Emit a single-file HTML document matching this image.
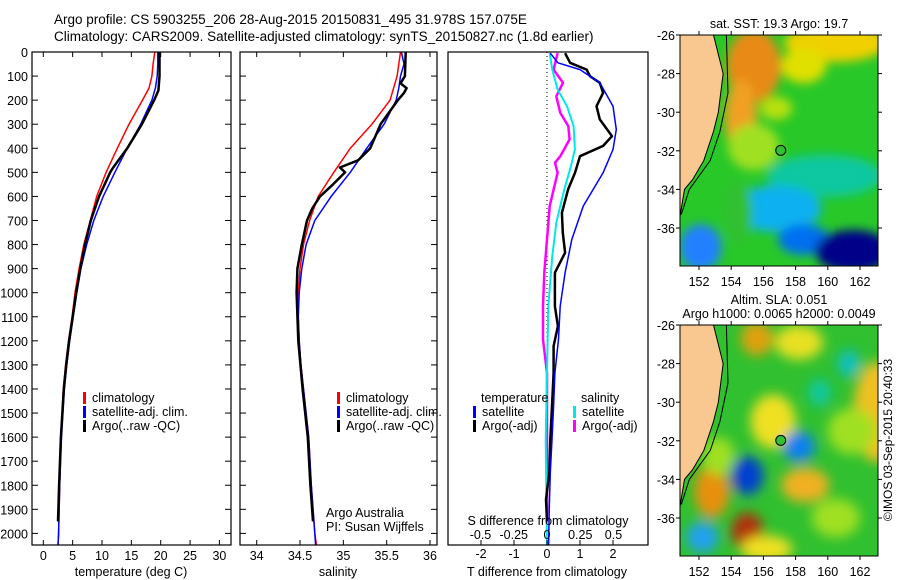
<!DOCTYPE html>
<html><head><meta charset="utf-8"><style>
body{margin:0;background:#fff;}
svg{display:block;font-family:"Liberation Sans",sans-serif;}
</style></head><body>
<svg id="fig" width="900" height="580" viewBox="0 0 900 580">
<defs>
<filter id="blur1" x="-20%" y="-20%" width="140%" height="140%"><feGaussianBlur stdDeviation="5"/></filter>
<filter id="blur2" x="-20%" y="-20%" width="140%" height="140%"><feGaussianBlur stdDeviation="6"/></filter>
<clipPath id="clipm1"><rect x="680" y="35" width="198" height="231"/></clipPath>
<clipPath id="clipm2"><rect x="680" y="325" width="198" height="231"/></clipPath>
</defs>
<text x="54" y="24" font-size="13.5">Argo profile: CS 5903255_206 28-Aug-2015 20150831_495 31.978S 157.075E</text>
<text x="54" y="41" font-size="13.5">Climatology: CARS2009. Satellite-adjusted climatology: synTS_20150827.nc (1.8d earlier)</text>
<g id="p1"></g>
<g id="p2"></g>
<g id="p3"></g>
<g id="m1"></g>
<g id="m2"></g>
<text transform="translate(892,440) rotate(-90)" text-anchor="middle" font-size="12">©IMOS 03-Sep-2015 20:40:33</text>
</svg>
<script>
// ---- data ----
const tDepths = [0,50,100,150,200,300,400,500,600,700,800,900,1000,1100,1200,1300,1400,1600,1800,2000,2050];
const tempClim = [19.0,18.7,18.5,18.0,16.9,14.6,12.6,10.7,9.1,8.0,6.9,6.1,5.4,4.9,4.3,3.8,3.4,3.0,2.8,2.6,2.5];
const tempSat  = [19.5,19.5,19.4,19.1,18.5,16.6,14.3,12.2,10.2,8.6,7.4,6.4,5.7,5.1,4.5,4.0,3.6,3.1,2.8,2.6,2.5];
const argoDepths = [0,100,160,200,300,400,480,500,600,700,800,900,1000,1100,1200,1300,1400,1600,1800,1950];
const tempArgo = [19.8,19.8,19.6,18.9,16.8,14.3,11.9,11.4,9.5,8.1,7.1,6.3,5.6,5.0,4.4,3.9,3.5,3.0,2.7,2.5];
const salClim = [35.66,35.64,35.62,35.58,35.54,35.33,35.08,34.89,34.71,34.61,34.54,34.50,34.48,34.48,34.49,34.51,34.54,34.60,34.63,34.67,34.69];
const salSat  = [35.67,35.70,35.66,35.64,35.61,35.47,35.27,35.08,34.86,34.67,34.57,34.52,34.49,34.48,34.49,34.51,34.54,34.60,34.63,34.67,34.68];
const salArgoDepths = [0,100,130,150,170,200,300,400,450,480,500,550,600,650,700,800,900,1000,1200,1400,1600,1800,1950];
const salArgo = [35.72,35.71,35.66,35.73,35.70,35.63,35.43,35.31,35.17,34.96,35.02,34.88,34.73,34.64,34.58,34.52,34.47,34.46,34.48,34.53,34.59,34.62,34.65];
const dTsatDepths = [5,45,73,128,225,322,405,502,640,779,917,1056,1194,1333,1471,1610,1748,1887,2050];
const dTsat = [0.1,0.33,1.0,1.6,2.0,2.1,2.0,1.7,1.1,0.75,0.55,0.4,0.35,0.24,0.2,0.15,0.1,0.07,0.05];
const dTargoDepths = [5,45,73,100,128,170,225,280,350,390,433,502,571,668,751,834,917,1056,1139,1222,1333,1471,1610,1748,1859,1950];
const dTargo = [0.55,0.7,1.2,1.3,1.6,1.7,1.5,1.6,1.97,1.7,1.0,0.85,0.64,0.45,0.48,0.55,0.24,0.24,0.33,0.2,0.2,0.15,0.1,0.07,-0.03,0.0];
const dSsatDepths = [5,73,156,225,308,405,475,571,709,848,1056,1333,1610,2050];
const dSsat = [0.02,0.04,0.08,0.15,0.2,0.21,0.18,0.13,0.07,0.04,0.01,0.0,-0.01,0.0];
const dSargoDepths = [5,73,128,184,253,308,363,433,460,502,640,779,917,1056,1194,1333,1471,1950];
const dSargo = [0.08,0.05,0.12,0.07,0.1,0.16,0.17,0.1,0.06,0.08,0.02,0.0,-0.02,-0.03,-0.03,0.0,0.0,0.0];
const depthTicks = [0,100,200,300,400,500,600,700,800,900,1000,1100,1200,1300,1400,1500,1600,1700,1800,1900,2000];
const tempTicks = [0,5,10,15,20,25,30];
const salTicks = [34,34.5,35,35.5,36];
const salTickLabels = ["34","34.5","35","35.5","36"];
const dTTicks = [-2,-1,0,1,2];
const dSTicks = [-0.5,-0.25,0,0.25,0.5];
const dSTickLabels = ["-0.5","-0.25","0","0.25","0.5"];
const latTicks = [-26,-28,-30,-32,-34,-36];
const lonTicks = [152,154,156,158,160,162];

// ---- scales ----
const NS='http://www.w3.org/2000/svg';
const yD = d => 52 + d*0.2407;
const xT = t => 43.3 + t*5.87;
const xS = s => 256.7 + (s-34)*86.65;
const xDT = t => 547 + t*33;
const xDS = s => 547 + s*133;
const mx = lon => 699 + (lon-152)*16.1;
const my1 = lat => 35 + (-26-lat)*19.3;
const my2 = lat => 325 + (-26-lat)*19.3;

function mk(tag, attrs, parent){const e=document.createElementNS(NS,tag);for(const k in attrs)e.setAttribute(k,attrs[k]);parent.appendChild(e);return e;}
function txt(parent,x,y,s,anchor,size){const t=mk('text',{x:x,y:y,'font-size':size||12,'text-anchor':anchor||'start'},parent);t.textContent=s;return t;}
function line(xs, ds, xf, color, w, parent, name){
  const pts = xs.map((v,i)=>xf(v).toFixed(1)+','+yD(ds[i]).toFixed(1)).join(' ');
  const p = mk('polyline',{points:pts,fill:'none',stroke:color,'stroke-width':w,'stroke-linejoin':'round'},parent);
  
  
  return p;
}
function box(parent,x0,x1,name){
  const r = mk('rect',{x:x0,y:52,width:x1-x0,height:493,fill:'none',stroke:'#000','stroke-width':1.2},parent);
  
  
}
function depthTickMarks(parent,x0,x1,labels){
  depthTicks.forEach(d=>{
    const y=yD(d);
    mk('line',{x1:x0,y1:y,x2:x0+6,y2:y,stroke:'#000'},parent);
    mk('line',{x1:x1,y1:y,x2:x1-6,y2:y,stroke:'#000'},parent);
    if(labels){const t=txt(parent,28,y+5,String(d),'end',12.5);
      
      }
  });
}
function xTicks(parent,vals,labs,xf,ylab){
  vals.forEach((v,i)=>{const x=xf(v);
    mk('line',{x1:x,y1:52,x2:x,y2:57,stroke:'#000'},parent);
    mk('line',{x1:x,y1:545,x2:x,y2:540,stroke:'#000'},parent);
    const t=txt(parent,x,ylab,labs[i],'middle',12.5);
    
    
  });
}
function legend(parent,x,y,items){
  items.forEach((it,i)=>{
    mk('rect',{x:x,y:y+i*14-10,width:3,height:12,fill:it[1]},parent);
    const t=txt(parent,x+9,y+i*14,it[0],'start',12.5);
    
    
  });
}

// ---- panel 1 ----
const p1=document.getElementById('p1');
depthTickMarks(p1,32,231,true);
xTicks(p1,tempTicks,tempTicks.map(String),xT,560);
line(tempClim,tDepths,xT,'#ff0000',1.5,p1,'temp-climatology-line');
line(tempSat,tDepths,xT,'#0000ff',1.5,p1,'temp-satellite-line');
line(tempArgo,argoDepths,xT,'#000000',2.5,p1,'temp-argo-line');
box(p1,32,231,'temp-plot-frame');
legend(p1,83,402,[['climatology','#ff0000'],['satellite-adj. clim.','#0000ff'],['Argo(..raw -QC)','#000000']]);
txt(p1,131,576,'temperature (deg C)','middle',12.5);

// ---- panel 2 ----
const p2=document.getElementById('p2');
depthTickMarks(p2,240,437,false);
xTicks(p2,salTicks,salTickLabels,xS,560);
line(salClim,tDepths,xS,'#ff0000',1.5,p2,'sal-climatology-line');
line(salSat,tDepths,xS,'#0000ff',1.5,p2,'sal-satellite-line');
line(salArgo,salArgoDepths,xS,'#000000',2.5,p2,'sal-argo-line');
box(p2,240,437,'sal-plot-frame');
legend(p2,337,402,[['climatology','#ff0000'],['satellite-adj. clim.','#0000ff'],['Argo(..raw -QC)','#000000']]);
txt(p2,326,517,'Argo Australia','start',12.5);
txt(p2,326,531,'PI: Susan Wijffels','start',12.5);
txt(p2,338,576,'salinity','middle',12.5);

// ---- panel 3 ----
const p3=document.getElementById('p3');
mk('line',{x1:xDT(0),y1:52,x2:xDT(0),y2:545,stroke:'#000','stroke-dasharray':'1,3'},p3);
line(dSargo,dSargoDepths,xDS,'#ff00ff',2.5,p3,'sal-argo-diff-line');
line(dSsat,dSsatDepths,xDS,'#00e8e8',2,p3,'sal-satellite-diff-line');
line(dTargo,dTargoDepths,xDT,'#000000',2.5,p3,'temp-argo-diff-line');
line(dTsat,dTsatDepths,xDT,'#0000ff',1.5,p3,'temp-satellite-diff-line');
box(p3,448,648,'diff-plot-frame');
dTTicks.forEach(v=>{const x=xDT(v);mk('line',{x1:x,y1:545,x2:x,y2:540,stroke:'#000'},p3);
  const t=txt(p3,x,558,String(v),'middle',12.5);
  
  });
dSTicks.forEach((v,i)=>{
  const t=txt(p3,xDS(v),539,dSTickLabels[i],'middle',12.5);
  
  });
txt(p3,548,525,'S difference from climatology','middle',12.5);
txt(p3,547,576,'T difference from climatology','middle',12.5);
txt(p3,481,402,'temperature','start',12.5);
txt(p3,581,402,'salinity','start',12.5);
legend(p3,473,416,[['satellite','#0000ff'],['Argo(-adj)','#000000']]);
legend(p3,573,416,[['satellite','#00e8e8'],['Argo(-adj)','#ff00ff']]);

// ---- maps ----
const sstBase = '#28c828';
const sstBlobs = [
 [160.5,-26.4,3.2,1.0,'#f0d000'],[158.5,-27.6,1.4,0.9,'#e0e000'],[155.4,-27.6,1.7,1.9,'#e88a18'],[154.6,-30.3,1.0,2.0,'#f0a020'],
 [156.8,-29.8,1.0,0.6,'#b8e010'],[155.4,-31.8,1.6,1.2,'#a0e020'],[159.8,-33.3,3.6,1.1,'#10c8a0'],[156.8,-35.0,2.8,1.2,'#10b0f0'],
 [154.4,-35.2,0.9,1.6,'#30c030'],[152.1,-37.0,1.3,1.2,'#2080ff'],[158.5,-36.6,1.6,0.8,'#0070f0'],[161.6,-37.2,2.4,1.1,'#000088']];
const slaBase = '#30c030';
const slaBlobs = [
 [155.6,-26.7,1.0,0.9,'#e0a010'],[158.2,-26.9,1.5,0.9,'#e8e020'],[156.6,-31.0,1.4,1.4,'#f0e020'],[163.0,-30.5,1.4,2.6,'#f0c020'],
 [152.8,-34.6,1.1,1.4,'#e89010'],[155.0,-36.7,1.0,1.0,'#b03008'],[158.6,-34.3,1.5,0.9,'#f0b020'],[156.2,-37.6,1.6,0.7,'#f0e020'],
 [161.5,-31.5,1.5,1.2,'#a0e020'],[160.5,-36,1.5,1.0,'#a0e020'],[153.2,-32.8,1.0,1.0,'#a0e020'],
 [155.0,-33.8,1.0,1.0,'#0040d0'],[158.2,-32.3,1.0,0.8,'#1080f0'],[152.2,-37.0,1.0,0.8,'#20a0f0'],[161.3,-28.0,0.7,0.7,'#10c0c0'],[159.5,-29.5,0.7,0.7,'#10c8a0']];
const coastLon = [152.9,153.5,153.2,152.9,152.3,151.6,151.1,150.9,150.8];
const coastLat = [-26,-28,-30,-31,-32.5,-33.5,-34,-35,-35.5];
const shelfLon = [153.7,153.8,153.3,152.7,151.4,150.9];
const shelfLat = [-26,-29,-31,-32.5,-34,-35.3];
function drawMap(id,my,y0,base,blobs,blurId,clip,title1,title2){
  const g=document.getElementById(id);
  const c=mk('g',{'clip-path':'url(#'+clip+')'},g);
  mk('rect',{x:680,y:y0,width:198,height:231,fill:base},c);
  const bg=mk('g',{filter:'url(#'+blurId+')'},c);
  blobs.forEach(b=>{
    const e=mk('ellipse',{cx:mx(b[0]),cy:my(b[1]),rx:b[2]*16.1,ry:b[3]*19.3,fill:b[4]},bg);
    
    
  });
  let pts=coastLon.map((v,i)=>mx(v)+','+my(coastLat[i])).join(' ');
  pts += ' 670,'+my(-35.5)+' 670,'+(y0-5);
  const land=mk('polygon',{points:pts,fill:'#f8c890',stroke:'#000','stroke-width':1},c);
  
  
  mk('polyline',{points:shelfLon.map((v,i)=>mx(v)+','+my(shelfLat[i])).join(' '),fill:'none',stroke:'#000','stroke-width':1},c);
  const m=mk('circle',{cx:mx(157.075),cy:my(-31.978),r:5,fill:'#30c030',stroke:'#000','stroke-width':1},g);
  
  
  mk('rect',{x:680,y:y0,width:198,height:231,fill:'none',stroke:'#000','stroke-width':1},g);
  latTicks.forEach(l=>{const y=my(l);
    mk('line',{x1:676,y1:y,x2:680,y2:y,stroke:'#000'},g);
    mk('line',{x1:878,y1:y,x2:882,y2:y,stroke:'#000'},g);
    const t=txt(g,675,y+5,String(l),'end',12.5);
    
    });
  lonTicks.forEach(l=>{const x=mx(l);
    mk('line',{x1:x,y1:y0,x2:x,y2:y0-4,stroke:'#000'},g);
    mk('line',{x1:x,y1:y0+231,x2:x,y2:y0+235,stroke:'#000'},g);
    const t=txt(g,x,y0+251,String(l),'middle',12.5);
    
    });
  if(title2){txt(g,779,y0-21,title1,'middle',12.5);txt(g,779,y0-7,title2,'middle',12.5);}
  else txt(g,779,y0-7,title1,'middle',12.5);
}
drawMap('m1',my1,35,sstBase,sstBlobs,'blur1','clipm1','sat. SST: 19.3 Argo: 19.7');
drawMap('m2',my2,325,slaBase,slaBlobs,'blur2','clipm2','Altim. SLA: 0.051','Argo h1000: 0.0065 h2000: 0.0049');
</script>
</body></html>
